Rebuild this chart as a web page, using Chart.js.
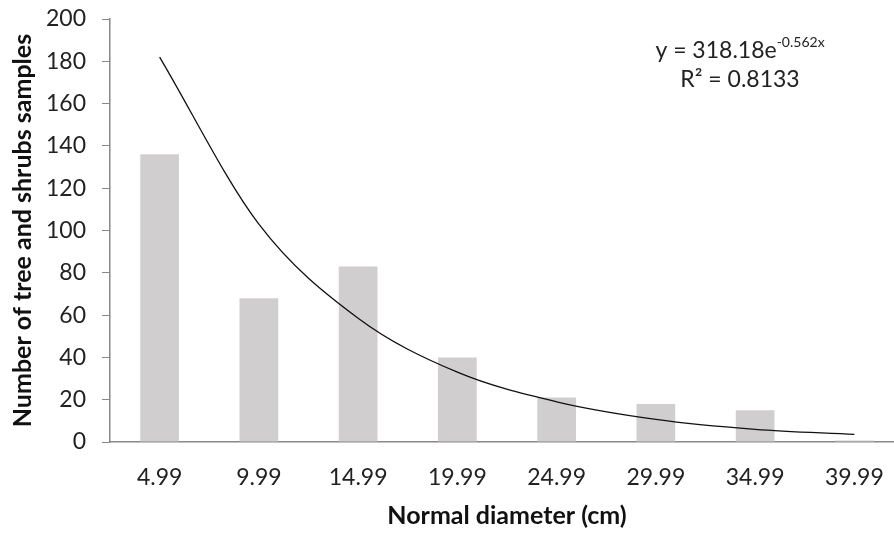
<!DOCTYPE html>
<html>
<head>
<meta charset="utf-8">
<script src="https://cdn.jsdelivr.net/npm/chart.js@4"></script>
<style>
html,body{margin:0;padding:0;background:#fff;overflow:hidden;}
#wrap{width:904px;height:535px;}
</style>
</head>
<body>
<div id="wrap"><canvas id="c" width="904" height="535"></canvas></div>
<script>
const categories = ['4.99', '9.99', '14.99', '19.99', '24.99', '29.99', '34.99', '39.99'];
const samples = [136, 68, 83, 40, 21, 18, 15, 0.7];
const trendValues = [182, 103, 58.5, 33, 19, 10.7, 6, 3.6];
const yTicks = [0, 20, 40, 60, 80, 100, 120, 140, 160, 180, 200];

const fontFam = 'Lato, "Open Sans", sans-serif';
const axisGray = '#888888';

// equation label, drawn top right like in excel
const eqLabel = {
    id: 'eqLabel',
    afterDraw(chart) {
        const ctx = chart.ctx;
        ctx.save();
        ctx.fillStyle = '#222';
        ctx.textBaseline = 'alphabetic';
        const main = 'y = 318.18e';
        const sup = '-0.562x';
        ctx.font = '23px ' + fontFam;
        const w1 = ctx.measureText(main).width;
        ctx.font = '14px ' + fontFam;
        const w2 = ctx.measureText(sup).width;
        const cx = 740;
        let x0 = cx - (w1 + w2) / 2;
        ctx.font = '23px ' + fontFam;
        ctx.textAlign = 'left';
        ctx.fillText(main, x0, 58);
        ctx.font = '14px ' + fontFam;
        ctx.fillText(sup, x0 + w1, 47);
        ctx.font = '23px ' + fontFam;
        ctx.textAlign = 'center';
        ctx.fillText('R\u00B2 = 0.8133', cx, 87);
        ctx.restore();
    }
};

new Chart(document.getElementById('c'), {
    data: {
        labels: categories,
        datasets: [{
            type: 'line',
            label: 'Trend',
            data: trendValues,
            borderColor: '#111',
            borderWidth: 1.3,
            pointRadius: 0,
            cubicInterpolationMode: 'monotone',
            fill: false,
            order: 0
        }, {
            type: 'bar',
            label: 'Samples',
            data: samples,
            backgroundColor: '#d0cece',
            categoryPercentage: 1,
            barPercentage: 0.39,
            order: 1
        }]
    },
    options: {
        responsive: false,
        animation: false,
        layout: { padding: { top: 19, right: 0, left: 0, bottom: 0 } },
        plugins: { legend: { display: false }, tooltip: { enabled: false } },
        scales: {
            x: {
                offset: true,
                grid: { display: false, drawOnChartArea: false, offset: true, tickLength: 10, color: axisGray },
                border: { color: axisGray, width: 1.5 },
                ticks: { color: '#222', font: { family: fontFam, size: 23 }, padding: 12 },
                title: { display: true, text: 'Normal diameter (cm)', color: '#111', font: { family: fontFam, size: 25, weight: 'bold' }, padding: { top: 12 } },
                afterFit(s) { s.height = 93; s.paddingLeft = 0; s.paddingRight = 0; }
            },
            y: {
                min: 0, max: 200,
                afterBuildTicks(s) { s.ticks = yTicks.map(v => ({ value: v })); },
                grid: { drawOnChartArea: false, tickLength: 8, color: axisGray },
                border: { color: axisGray, width: 1.5 },
                ticks: { color: '#222', font: { family: fontFam, size: 23 }, padding: 16 },
                title: { display: true, text: 'Number of tree and shrubs samples', color: '#111', font: { family: fontFam, size: 25, weight: 'bold' }, padding: { top: 8, bottom: 4 } },
                afterFit(s) { s.width = 110; s.paddingTop = 0; s.paddingBottom = 0; }
            }
        }
    },
    plugins: [eqLabel]
});
</script>
</body>
</html>
